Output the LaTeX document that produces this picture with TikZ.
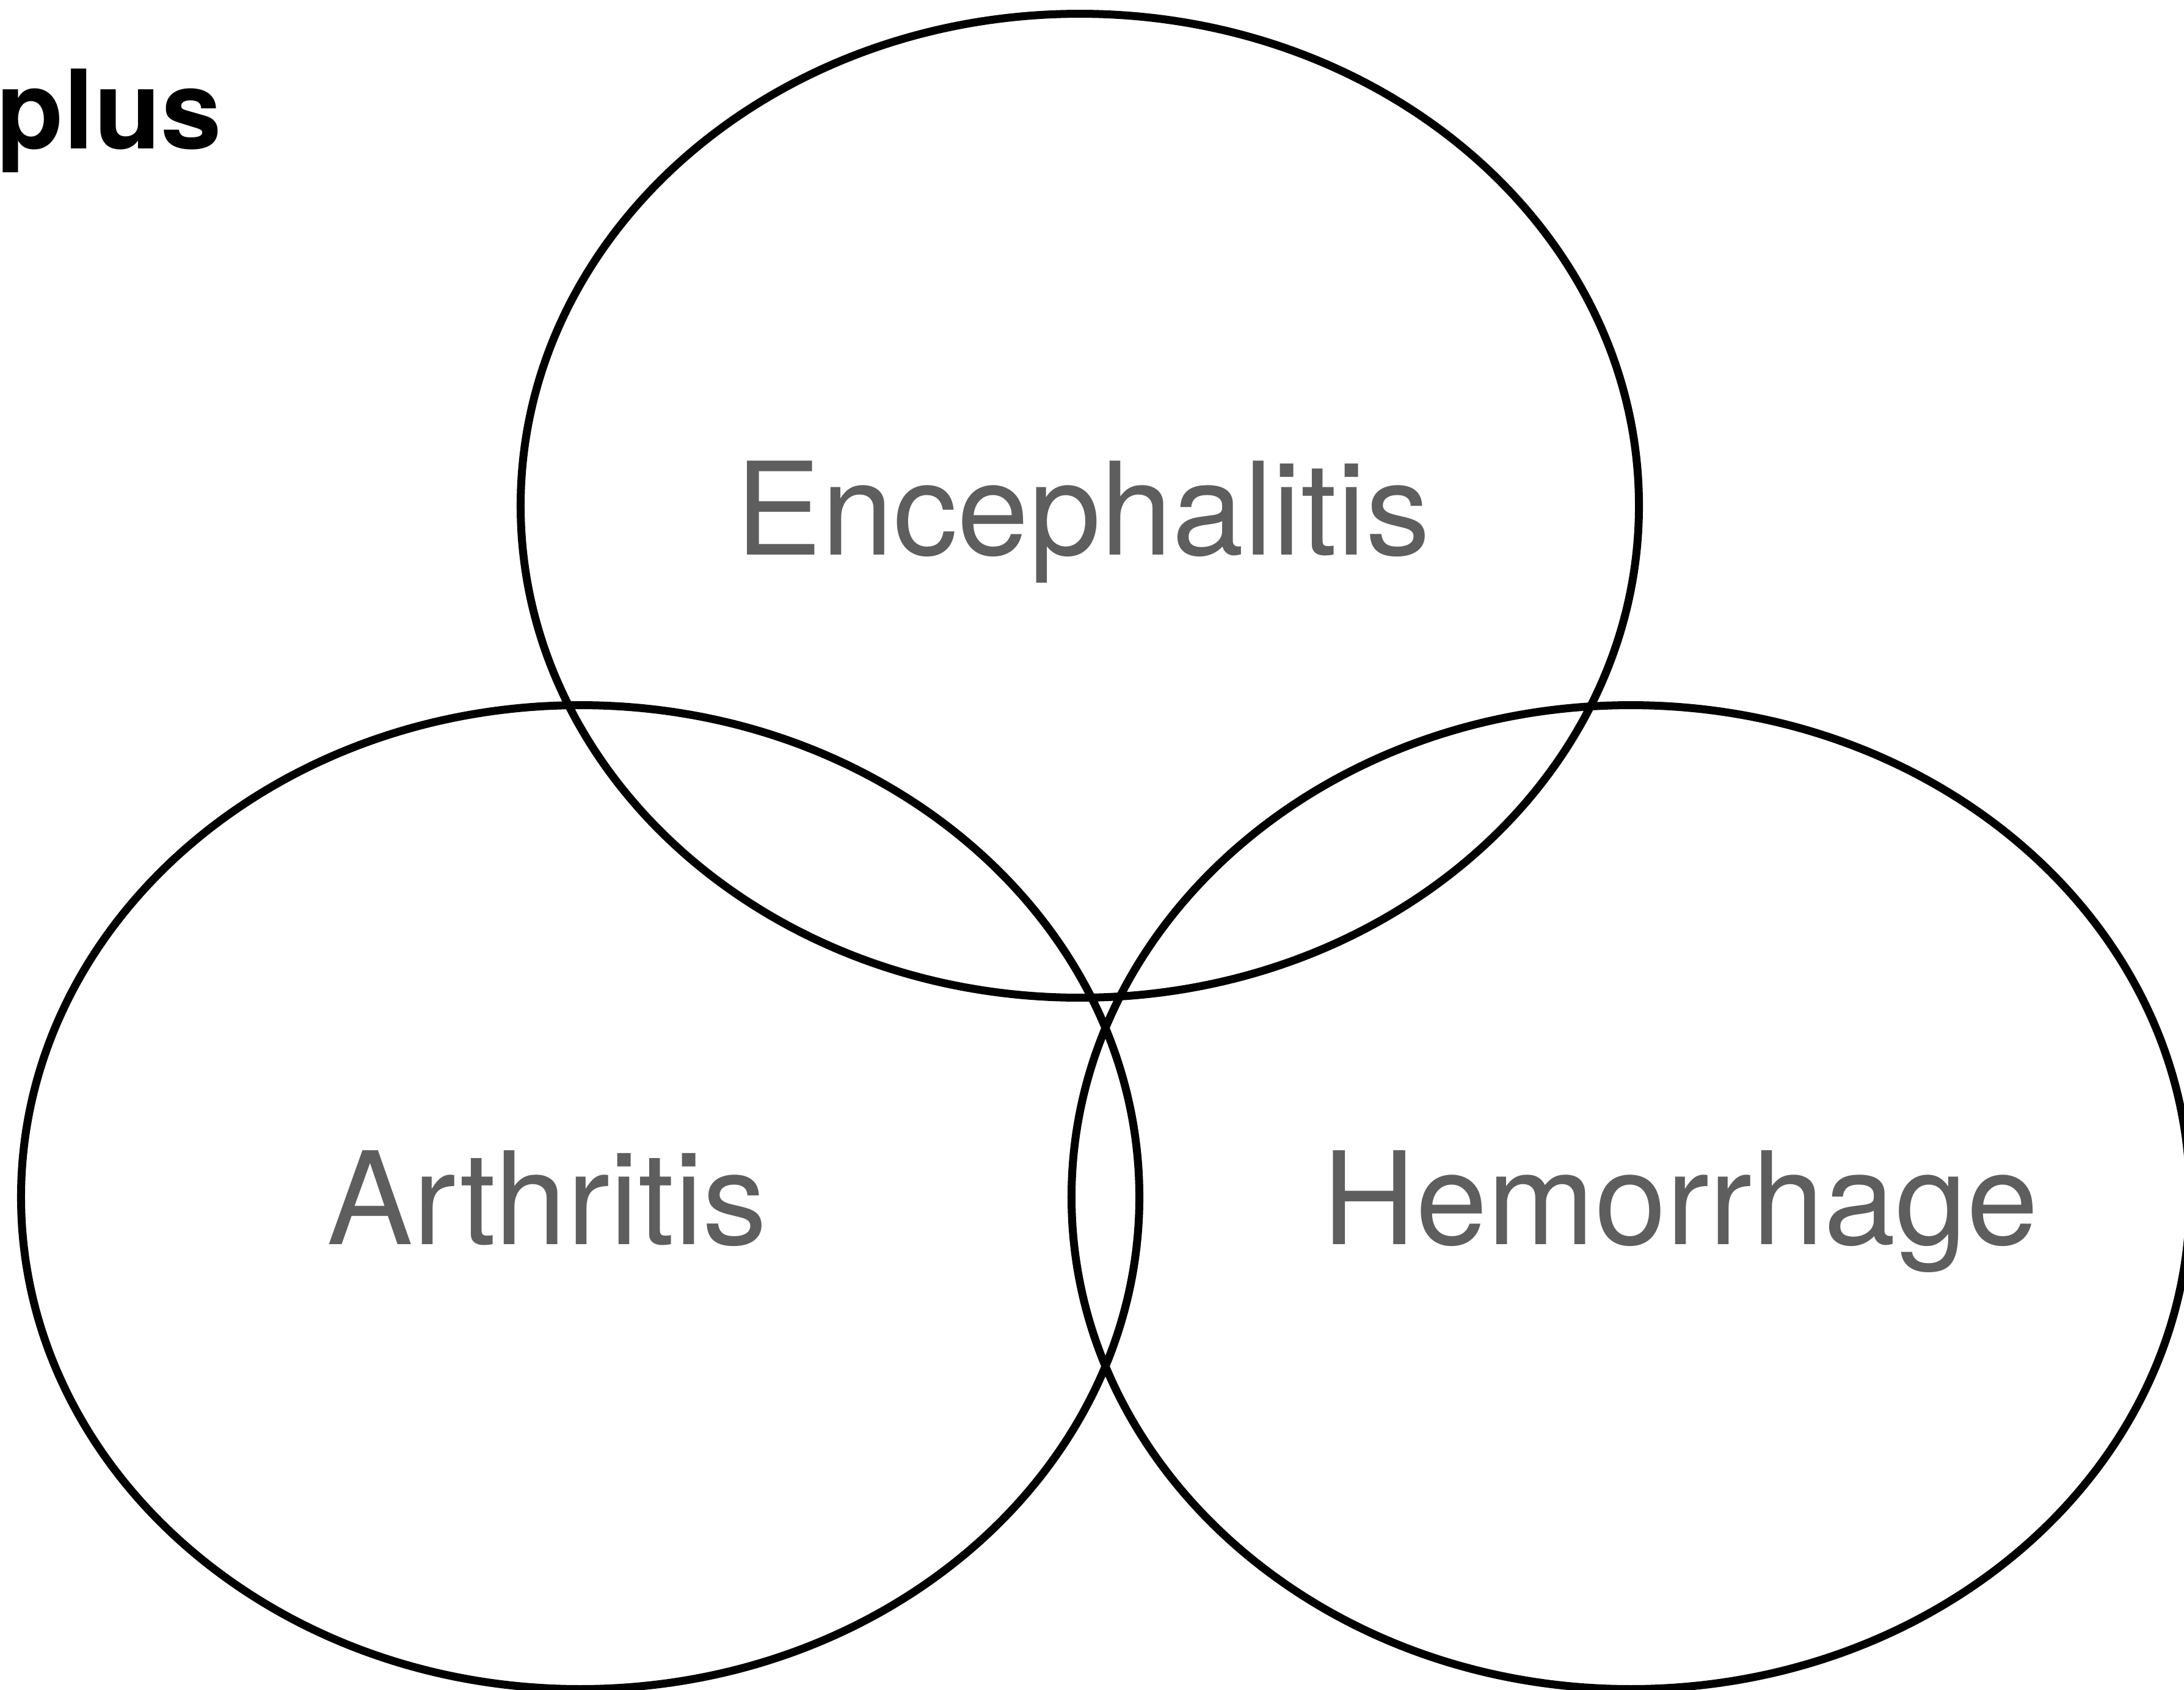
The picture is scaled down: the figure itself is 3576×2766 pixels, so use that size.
\documentclass[tikz,border=0pt]{standalone}
\usepackage{fontspec}
\setmainfont{TeX Gyre Heros}
\usetikzlibrary{shapes.geometric}
\definecolor{labelgray}{HTML}{5E5E5E}

\begin{document}
\begin{tikzpicture}[
    x=0.01cm, y=-0.01cm,
    venn/.style={ellipse, draw=black, line width=3.7pt, minimum width=18.3cm, minimum height=16.1cm, inner sep=0pt},
    setlabel/.style={anchor=base, inner sep=0pt, text=labelgray, font=\fontsize{60}{72}\selectfont},
    title/.style={anchor=base west, inner sep=0pt, font=\fontsize{51}{60}\selectfont\bfseries}
]

% Frame
\useasboundingbox (0,0) rectangle (3576,2766);
\clip (0,0) rectangle (3576,2766);

% Sets
\node[venn] (enceph) at (1768,828) {};
\node[venn] (arthr) at (950,1960) {};
\node[venn] (hemorr) at (2670,1960) {};

% Labels
\node[setlabel] (enceph_lbl) at (1773,908) {Encephalitis};
\node[setlabel] (arthr_lbl) at (896,2037) {Arthritis};
\node[setlabel] (hemorr_lbl) at (2752,2037) {Hemorrhage};

\node[title] (plus_lbl) at (-6,243) {plus};

\end{tikzpicture}
\end{document}
